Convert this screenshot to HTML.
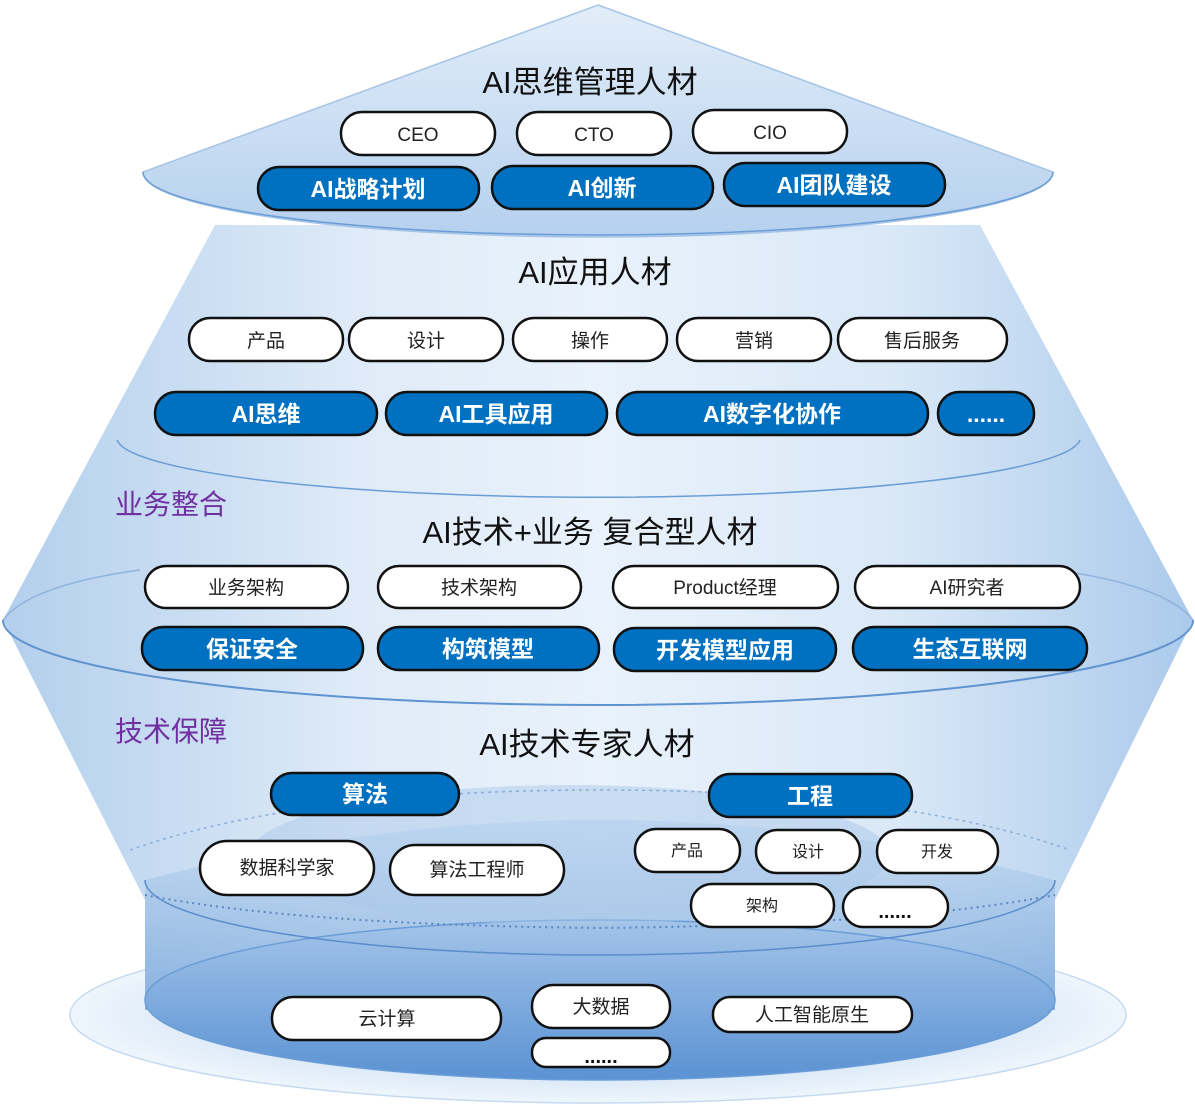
<!DOCTYPE html>
<html><head><meta charset="utf-8"><style>
html,body{margin:0;padding:0;background:#fff;}
svg{display:block}
text{font-family:"Liberation Sans","Noto Sans CJK SC",sans-serif;}
</style></head><body>
<svg width="1195" height="1107" viewBox="0 0 1195 1107" xmlns="http://www.w3.org/2000/svg">
<defs>
<linearGradient id="cone" x1="0" y1="0" x2="0" y2="1">
<stop offset="0" stop-color="#e2edf9"/><stop offset="1" stop-color="#b5d0ee"/></linearGradient>
<linearGradient id="body" x1="0" y1="0" x2="1" y2="0">
<stop offset="0" stop-color="#b3cfec"/><stop offset="0.3" stop-color="#dfebf8"/><stop offset="0.5" stop-color="#e9f2fb"/><stop offset="0.75" stop-color="#d9e8f7"/><stop offset="1" stop-color="#abcaeb"/></linearGradient>
<linearGradient id="cyl" x1="0" y1="0" x2="0" y2="1">
<stop offset="0" stop-color="#c5dbf1"/><stop offset="1" stop-color="#6d9fd8"/></linearGradient>
<linearGradient id="bot" x1="0" y1="0" x2="0" y2="1">
<stop offset="0" stop-color="#a3c4e9"/><stop offset="1" stop-color="#5b92d3"/></linearGradient>
<radialGradient id="plate" cx="0.5" cy="0.5" r="0.5">
<stop offset="0.6" stop-color="#d2e3f5"/><stop offset="1" stop-color="#eef5fc"/></radialGradient>
</defs>
<ellipse cx="598" cy="1015" rx="528" ry="88" fill="url(#plate)" stroke="#c5daf0" stroke-width="1.5"/>
<path d="M215,225 L980,225 L1193,620 L1055,900 L1055,1010 L145,1010 L145,900 L3,620 Z" fill="url(#body)"/>
<path d="M145,880 Q600,760 1055,880 L1055,1010 L145,1010 Z" fill="url(#cyl)" opacity="0.7"/>
<ellipse cx="600" cy="1000" rx="455" ry="80" fill="url(#bot)" stroke="#6a9dd6" stroke-width="1.5"/>
<path d="M145,880 A455,75 0 0 0 1055,880" fill="none" stroke="#5a8ccc" stroke-width="1.5"/>
<ellipse cx="570" cy="855" rx="320" ry="70" fill="#a9c8ea" opacity="0.5"/>
<path d="M130,850 Q300,790 600,790 Q900,790 1070,850" fill="none" stroke="#8aaed6" stroke-dasharray="3,4" stroke-width="1.5"/>
<path d="M145,895 Q300,925 600,928 Q900,925 1055,895" fill="none" stroke="#5b87c0" stroke-dasharray="2,4" stroke-width="2"/>
<!-- big rim -->
<path d="M3,620 A595,85 0 0 0 1193,620" fill="none" stroke="#5f93cf" stroke-width="2"/>
<path d="M3,620 Q30,585 140,570" fill="none" stroke="#8fb3dd" stroke-width="1.5"/>
<path d="M1193,620 Q1165,585 1055,570" fill="none" stroke="#8fb3dd" stroke-width="1.5"/>
<!-- middle rim -->
<path d="M117,440 A482,60 0 0 0 1080,440" fill="none" stroke="#6a9dd6" stroke-width="1.5"/>
<!-- top cone -->
<path d="M598,5 L1053,172 A455,65 0 0 1 143,172 Z" fill="url(#cone)" stroke="#a5c4e6" stroke-width="1.5"/>
<path d="M143,172 A455,63 0 0 0 1053,172" fill="none" stroke="#6a9dd6" stroke-width="1.5"/>

<g font-size="31" fill="#111" text-anchor="middle">
<text x="590" y="93">AI思维管理人材</text>
<text x="595" y="283">AI应用人材</text>
<text x="590" y="543">AI技术+业务 复合型人材</text>
<text x="587" y="755">AI技术专家人材</text>
</g>
<g font-size="28" fill="#7030A0">
<text x="115" y="514">业务整合</text>
<text x="115" y="741">技术保障</text>
</g>

<g stroke="#111" stroke-width="2.5">
<g fill="#fff">
<rect x="341" y="112" width="154" height="43" rx="21"/>
<rect x="517" y="112" width="154" height="43" rx="21"/>
<rect x="693" y="110" width="154" height="43" rx="21"/>
<rect x="189" y="318" width="154" height="43" rx="21"/>
<rect x="349" y="318" width="154" height="43" rx="21"/>
<rect x="513" y="318" width="154" height="43" rx="21"/>
<rect x="677" y="318" width="154" height="43" rx="21"/>
<rect x="838" y="318" width="169" height="43" rx="21"/>
<rect x="145" y="566" width="203" height="42" rx="21"/>
<rect x="378" y="566" width="203" height="42" rx="21"/>
<rect x="613" y="566" width="225" height="42" rx="21"/>
<rect x="855" y="566" width="225" height="42" rx="21"/>
<rect x="200" y="841" width="174" height="54" rx="27"/>
<rect x="390" y="845" width="174" height="50" rx="25"/>
<rect x="635" y="829" width="105" height="43" rx="21"/>
<rect x="756" y="830" width="104" height="43" rx="21"/>
<rect x="877" y="830" width="121" height="43" rx="21"/>
<rect x="691" y="884" width="143" height="43" rx="21"/>
<rect x="843" y="887" width="105" height="40" rx="20"/>
<rect x="272" y="997" width="229" height="43" rx="21"/>
<rect x="532" y="985" width="138" height="43" rx="21"/>
<rect x="532" y="1038" width="138" height="29" rx="14"/>
<rect x="713" y="997" width="199" height="35" rx="17"/>
</g>
<g fill="#0070C0">
<rect x="258" y="167" width="221" height="43" rx="21"/>
<rect x="492" y="166" width="221" height="43" rx="21"/>
<rect x="724" y="163" width="221" height="43" rx="21"/>
<rect x="155" y="392" width="222" height="43" rx="21"/>
<rect x="386" y="392" width="221" height="43" rx="21"/>
<rect x="617" y="392" width="311" height="43" rx="21"/>
<rect x="938" y="392" width="96" height="43" rx="21"/>
<rect x="142" y="627" width="221" height="43" rx="21"/>
<rect x="378" y="627" width="221" height="43" rx="21"/>
<rect x="614" y="628" width="222" height="43" rx="21"/>
<rect x="853" y="627" width="234" height="43" rx="21"/>
<rect x="271" y="773" width="188" height="42" rx="21"/>
<rect x="709" y="774" width="203" height="43" rx="21"/>
</g>
</g>

<g font-size="19" fill="#222" text-anchor="middle">
<text x="418" y="141">CEO</text><text x="594" y="141">CTO</text><text x="770" y="139">CIO</text>
<text x="266" y="347">产品</text><text x="426" y="347">设计</text><text x="590" y="347">操作</text><text x="754" y="347">营销</text><text x="922" y="347">售后服务</text>
<text x="246" y="594">业务架构</text><text x="479" y="594">技术架构</text><text x="725" y="594">Product经理</text><text x="967" y="594">AI研究者</text>
<text x="287" y="874">数据科学家</text><text x="477" y="876">算法工程师</text>
<text x="387" y="1025">云计算</text><text x="601" y="1013">大数据</text><text x="812" y="1021">人工智能原生</text>
</g>
<g font-size="16" fill="#222" text-anchor="middle">
<text x="687" y="856">产品</text><text x="808" y="857">设计</text><text x="937" y="857">开发</text><text x="762" y="911">架构</text>
</g>
<g font-size="20" fill="#111" font-weight="bold" text-anchor="middle">
<text x="895" y="918">......</text><text x="601" y="1063">......</text>
</g>
<g font-size="23" fill="#fff" font-weight="bold" text-anchor="middle">
<text x="368" y="197">AI战略计划</text><text x="602" y="196">AI创新</text><text x="834" y="193">AI团队建设</text>
<text x="266" y="422">AI思维</text><text x="496" y="422">AI工具应用</text><text x="772" y="422">AI数字化协作</text><text x="986" y="422">......</text>
<text x="252" y="657">保证安全</text><text x="488" y="657">构筑模型</text><text x="725" y="658">开发模型应用</text><text x="970" y="657">生态互联网</text>
<text x="365" y="802">算法</text><text x="810" y="804">工程</text>
</g>
</svg>
</body></html>
